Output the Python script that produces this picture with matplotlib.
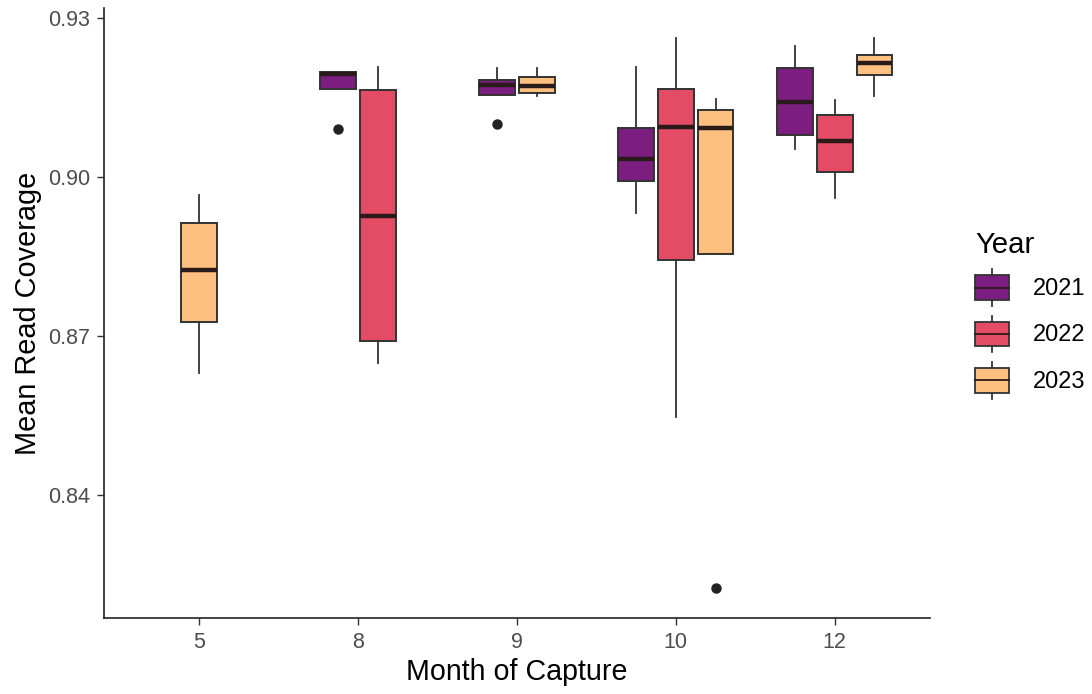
import matplotlib
matplotlib.use("Agg")
import matplotlib.pyplot as plt
import matplotlib.patches as mpatches
from matplotlib.lines import Line2D
from matplotlib.legend_handler import HandlerBase

plt.rcParams['font.family'] = ['Liberation Sans', 'DejaVu Sans']

# ---------------- data ----------------
months = ["5", "8", "9", "10", "12"]
years = ["2021", "2022", "2023"]
year_colors = ["#7B1E80", "#E34C64", "#FEC07F"]

# five-number summaries per year (months where that year was sampled)
months_2021 = ["8", "9", "10", "12"]
whislo_2021 = [0.9165, 0.9154, 0.8931, 0.9052]
q1_2021     = [0.9165, 0.9154, 0.8992, 0.9079]
med_2021    = [0.9193, 0.9173, 0.9034, 0.9141]
q3_2021     = [0.9198, 0.9182, 0.9092, 0.9204]
whishi_2021 = [0.9198, 0.9205, 0.9207, 0.9246]

months_2022 = ["8", "10", "12"]
whislo_2022 = [0.8649, 0.8547, 0.8959]
q1_2022     = [0.8691, 0.8842, 0.9009]
med_2022    = [0.8926, 0.9094, 0.9067]
q3_2022     = [0.9163, 0.9165, 0.9116]
whishi_2022 = [0.9207, 0.9261, 0.9144]

months_2023 = ["5", "9", "10", "12"]
whislo_2023 = [0.8630, 0.9152, 0.8854, 0.9153]
q1_2023     = [0.8726, 0.9157, 0.8854, 0.9192]
med_2023    = [0.8825, 0.9171, 0.9091, 0.9215]
q3_2023     = [0.8913, 0.9187, 0.9125, 0.9230]
whishi_2023 = [0.8965, 0.9205, 0.9146, 0.9261]

# outliers
outlier_months = ["8", "9", "10"]
outlier_years = ["2021", "2021", "2023"]
outlier_values = [0.9089, 0.9099, 0.8224]

y_ticks = [0.84, 0.87, 0.90, 0.93]
y_tick_labels = ["0.84", "0.87", "0.90", "0.93"]

series = {
    "2021": (months_2021, whislo_2021, q1_2021, med_2021, q3_2021, whishi_2021),
    "2022": (months_2022, whislo_2022, q1_2022, med_2022, q3_2022, whishi_2022),
    "2023": (months_2023, whislo_2023, q1_2023, med_2023, q3_2023, whishi_2023),
}

# ---------------- figure ----------------
W, H = 1092, 694
fig = plt.figure(figsize=(W / 100, H / 100), dpi=100)
ax = fig.add_axes([104 / W, 1 - 618 / H, 826 / W, 610 / H])

edge = "#333333"
dodge = 0.25
box_w = 0.225

for yi, yr in enumerate(years):
    ms, wl, q1, md, q3, wh = series[yr]
    stats, pos = [], []
    for k, m in enumerate(ms):
        present = [y for y in years if m in series[y][0]]
        n = len(present)
        idx = present.index(yr)
        off = (idx - (n - 1) / 2) * dodge
        fl = [v for mo, yy, v in zip(outlier_months, outlier_years, outlier_values)
              if mo == m and yy == yr]
        stats.append(dict(whislo=wl[k], q1=q1[k], med=md[k], q3=q3[k],
                          whishi=wh[k], fliers=fl))
        pos.append(months.index(m) + off)
    ax.bxp(stats, positions=pos, widths=box_w, patch_artist=True,
           showcaps=False,
           boxprops=dict(facecolor=year_colors[yi], edgecolor=edge, linewidth=1.4),
           medianprops=dict(color="#2a1a1a", linewidth=3.2, solid_capstyle="butt"),
           whiskerprops=dict(color=edge, linewidth=1.3),
           flierprops=dict(marker="o", markerfacecolor="#222222",
                           markeredgecolor="#222222", markersize=6.5))

ax.set_xlim(-0.6, len(months) - 0.4)
ax.set_ylim(0.8168, 0.9318)
ax.set_xticks(range(len(months)))
ax.set_xticklabels(months)
ax.set_yticks(y_ticks)
ax.set_yticklabels(y_tick_labels)

for s in ["top", "right"]:
    ax.spines[s].set_visible(False)
for s in ["left", "bottom"]:
    ax.spines[s].set_color("#222222")
    ax.spines[s].set_linewidth(1.2)
ax.tick_params(axis="both", direction="out", length=5, width=1.0,
               color="#333333", labelcolor="#4D4D4D", labelsize=15.5, pad=5)

ax.set_xlabel("Month of Capture", fontsize=20.6, color="black", labelpad=4)
ax.set_ylabel("Mean Read Coverage", fontsize=20.8, color="black", labelpad=4)


# ---------------- legend ----------------
class BoxHandler(HandlerBase):
    def create_artists(self, legend, orig_handle, xdescent, ydescent,
                       width, height, fontsize, trans):
        x0, y0 = -xdescent, -ydescent
        bh = height * 2 / 3
        by = y0 + (height - bh) / 2
        rect = mpatches.Rectangle((x0, by), width, bh,
                                  facecolor=orig_handle.get_facecolor(),
                                  edgecolor=edge, linewidth=1.3, transform=trans)
        xm = x0 + width / 2
        med = Line2D([x0, x0 + width], [y0 + height / 2] * 2, color="#2a1a1a",
                     linewidth=1.3, transform=trans)
        w1 = Line2D([xm, xm], [y0, by], color=edge, linewidth=1.3, transform=trans)
        w2 = Line2D([xm, xm], [by + bh, y0 + height], color=edge, linewidth=1.3,
                    transform=trans)
        return [w1, w2, rect, med]


handles = [mpatches.Patch(facecolor=c) for c in year_colors]
leg = fig.legend(handles, years, title="Year", loc="center left",
                 bbox_to_anchor=(975 / W, 1 - 315 / H),
                 frameon=False, fontsize=17, title_fontsize=21.2,
                 handler_map={mpatches.Patch: BoxHandler()},
                 handlelength=1.45, handleheight=2.0, handletextpad=1.0,
                 labelspacing=0.42, borderpad=0, borderaxespad=0,
                 alignment="left")

fig.savefig("out.png", dpi=100, facecolor="white")
